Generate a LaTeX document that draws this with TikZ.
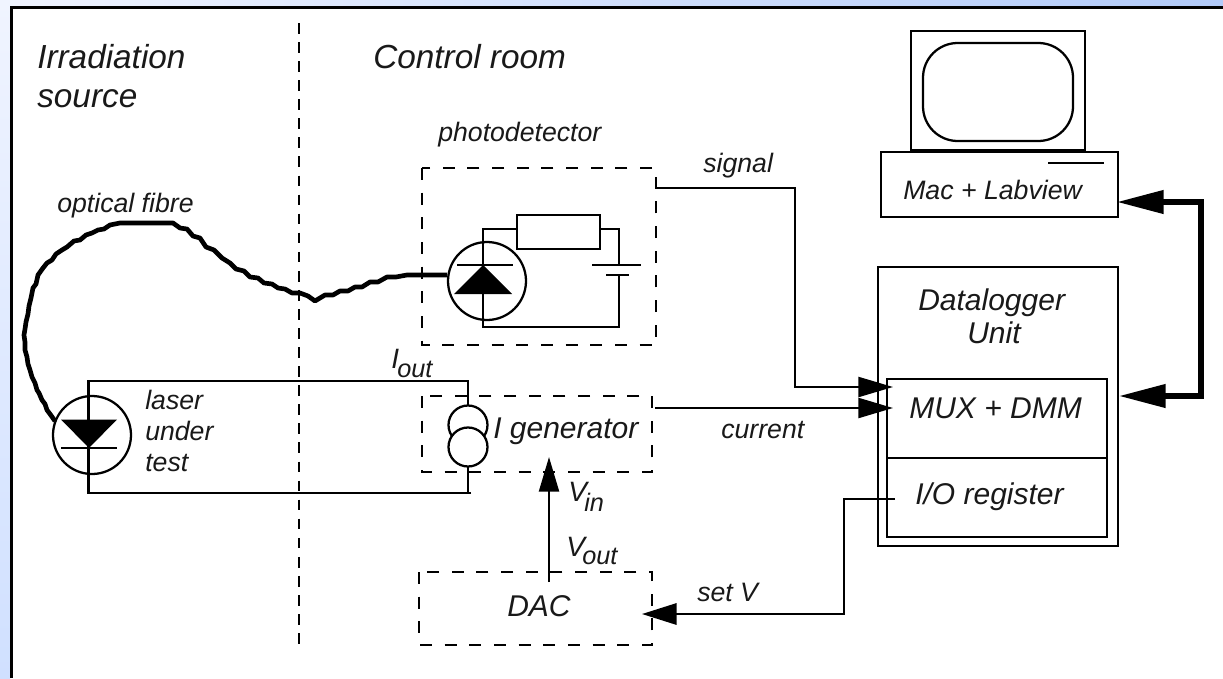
\documentclass[tikz,border=0pt]{standalone}
\usepackage{fontspec}
\setmainfont{Liberation Sans}
\usetikzlibrary{arrows.meta}
\definecolor{bandL}{RGB}{240,244,255}
\definecolor{bandR}{RGB}{178,203,250}
\definecolor{bandB}{RGB}{208,224,255}
\tikzset{
  x=0.75pt,y=-0.75pt,
  wire/.style={draw=black,line width=1.7pt,line join=miter},
  conn/.style={draw=black,line width=1.7pt},
  dash box/.style={draw=black,line width=1.6pt,dash pattern=on 9pt off 9.5pt},
  sep line/.style={draw=black,line width=1.5pt,dash pattern=on 8pt off 6.3pt},
  fibre/.style={draw=black,line width=3.5pt,line join=round},
  big arrow/.style={-{Triangle[length=26pt,width=15pt]}},
  set arrow/.style={-{Triangle[length=26pt,width=16pt]}},
  lbl/.style={font=\itshape\fontsize{20}{22}\selectfont,inner sep=0pt,anchor=base west,text=black!90},
  big lbl/.style={font=\itshape\fontsize{25}{28}\selectfont,inner sep=0pt,anchor=base west,text=black!90},
  med lbl/.style={font=\itshape\fontsize{22.5}{26}\selectfont,inner sep=0pt,anchor=base west,text=black!90},
  sym lbl/.style={font=\itshape\fontsize{21}{24}\selectfont,inner sep=0pt,anchor=base west,text=black!90},
  sub lbl/.style={font=\itshape\fontsize{19}{22}\selectfont,inner sep=0pt,anchor=base west,text=black!90},
}
\begin{document}
\begin{tikzpicture}
\useasboundingbox (0,0) rectangle (1223,678);
% background bands
\fill[white] (0,0) rectangle (1223,678);
\shade[left color=bandL,right color=bandR] (0,0) rectangle (1223,7);
\shade[top color=bandL,bottom color=bandB] (0,0) rectangle (10,678);
\draw[black,line width=2pt] (11.3,678) -- (11.3,7.5) -- (1223,7.5);
% separator
\coordinate (sepT) at (299,23); \coordinate (sepB) at (299,646);
\draw[sep line] (sepT) -- (sepB);
% headings
\node[big lbl] (hIrr) at (37,68) {Irradiation};
\node[big lbl] (hSrc) at (37,107) {source};
\node[big lbl] (hCtl) at (373,68) {Control room};
% photodetector
\node[lbl] (lPd) at (438,141) {photodetector};
\draw[dash box] (422,168) rectangle (656,345);
\draw[wire] (517,215) rectangle (600,249);
\coordinate (pdTop) at (483,229);
\coordinate (pdBot) at (483,327);
\coordinate (batR) at (619,229);
\coordinate (batB) at (619,327);
\draw[wire] (517,229) -- (pdTop) -- (pdBot) -- (batB) -- (619,275);
\draw[wire] (619,265) -- (batR) -- (600,229);
\draw[wire] (592,265) -- (641,265);
\draw[wire] (606,275) -- (629,275);
\draw[wire] (487,281) circle (39);
\draw[wire] (457,265) -- (513,265);
\fill[black] (483,265) -- (512,294) -- (454,294) -- cycle;
% fibre
\node[lbl] (lFib) at (57,212) {optical fibre};
\coordinate (fA) at (55,421);
\coordinate (fB) at (447,275);
\draw[fibre] (fA) -- (50,414) -- (47,410) -- (45,404) -- (42,400) -- (39,393) -- (37,390) -- (35,383) -- (32,377) -- (30,370) -- (28,364) -- (27,357) -- (25,350) -- (25,342) -- (24,335) -- (25,329) -- (26,322) -- (28,314) -- (29,306) -- (31,298) -- (33,288) -- (36,284) -- (38,275) -- (43,268) -- (47,263) -- (52,260) -- (56,254) -- (62,250) -- (67,247) -- (74,241) -- (80,240) -- (86,235) -- (92,233) -- (98,230) -- (104,229) -- (110,225) -- (120,223) -- (173,223) -- (180,228) -- (187,229) -- (193,236) -- (200,238) -- (206,247) -- (214,250) -- (222,258) -- (230,263) -- (236,269) -- (244,271) -- (250,277) -- (258,278) -- (264,283) -- (272,284) -- (278,288) -- (285,289) -- (292,293) -- (300,293) -- (308,296) -- (315,301) -- (325,295) -- (333,295) -- (340,291) -- (348,291) -- (355,287) -- (362,287) -- (370,282) -- (378,282) -- (387,277) -- (396,277) -- (407,275) -- (fB);
% laser loop
\draw[wire] (471,493) -- (88.5,493) -- (88.5,381) -- (468,381) -- (468,406);
\draw[wire] (92,435) circle (39);
\fill[black] (117,419.5) -- (61,419.5) -- (89,448) -- cycle;
\draw[wire] (61,448) -- (117,448);
\node[lbl] (lLas1) at (145,409) {laser};
\node[lbl] (lLas2) at (145,440) {under};
\node[lbl] (lLas3) at (145,471) {test};
\node[sym lbl] (lI) at (391,368) {I};
\node[sub lbl] (lIo) at (397,377) {out};
% generator
\draw[dash box] (422,396) rectangle (652,472);
\filldraw[wire,fill=white] (468,425) circle (19.5);
\filldraw[wire,fill=white] (468,447) circle (19.5);
\draw[wire] (468,466) -- (468,493);
\node[med lbl] (lGen) at (493,438) {I generator};
% DAC
\draw[dash box] (419,572) rectangle (652,645);
\node[med lbl] (lDac) at (507,616) {DAC};
% Vin arrow
\coordinate (dacOut) at (549,582);
\coordinate (genIn) at (549,457);
\draw[conn,big arrow] (dacOut) -- (genIn);
\node[sym lbl] (lV1) at (568,501) {V};
\node[sub lbl] (lV1s) at (584,511) {in};
\node[sym lbl] (lV2) at (566,556) {V};
\node[sub lbl] (lV2s) at (582,564) {out};
% Computer
\draw[wire] (911,31) rectangle (1085,150);
\draw[wire,rounded corners=26pt] (923,43) rectangle (1073,141);
\draw[wire] (881,152) rectangle (1118,217);
\draw[wire] (1048,163) -- (1104,163);
\node[lbl] (lMac) at (903,199) {Mac + Labview};
% Datalogger
\draw[wire] (878,267) rectangle (1118,546);
\draw[wire] (887,379) rectangle (1107,537);
\draw[wire] (887,458) -- (1107,458);
\node[med lbl] (lDl1) at (918,310) {Datalogger};
\node[med lbl] (lDl2) at (967,343) {Unit};
\node[med lbl] (lMux) at (909,418) {MUX + DMM};
\node[med lbl] (lIo2) at (915,504) {I/O register};
% signals
\coordinate (sigS) at (655,188); \coordinate (sigE) at (893,387);
\draw[conn,big arrow] (sigS) -- (795,188) -- (795,387) -- (sigE);
\node[lbl] (lSig) at (703,172) {signal};
\coordinate (curS) at (655,408); \coordinate (curE) at (893,408);
\draw[conn,big arrow] (curS) -- (curE);
\node[lbl] (lCur) at (721,438) {current};
\coordinate (regS) at (895,499); \coordinate (dacE) at (642,614);
\draw[conn,set arrow] (regS) -- (844,499) -- (844,614) -- (dacE);
\node[lbl] (lSet) at (697,601) {set V};
% thick bus
\coordinate (macR) at (1117,202); \coordinate (dlR) at (1119,396);
\draw[line width=4pt,{Triangle[length=35pt,width=17pt]}-{Triangle[length=35pt,width=17pt]},line join=miter] (macR) -- (1201,202) -- (1201,396) -- (dlR);
\end{tikzpicture}
\end{document}
